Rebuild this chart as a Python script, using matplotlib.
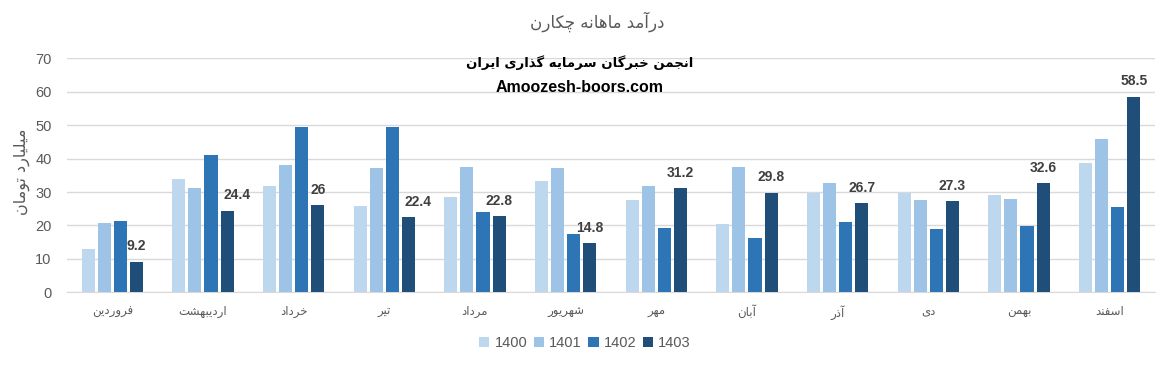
import numpy as np
import matplotlib
matplotlib.use("Agg")
import matplotlib.pyplot as plt
from matplotlib.patches import Patch

# ------------------------------------------------------
# Data
# ------------------------------------------------------
months = ["فروردین", "اردیبهشت", "خرداد", "تیر", "مرداد", "شهریور",
          "مهر", "آبان", "آذر", "دی", "بهمن", "اسفند"]
years = ["1400", "1401", "1402", "1403"]
rev_1400 = [13.0, 33.9, 31.8, 25.8, 28.5, 33.3, 27.6, 20.4, 29.7, 29.7, 29.1, 38.7]
rev_1401 = [20.7, 31.2, 38.1, 37.2, 37.5, 37.2, 31.8, 37.5, 32.7, 27.6, 27.9, 45.9]
rev_1402 = [21.3, 41.1, 49.5, 49.5, 24.0, 17.4, 19.2, 16.2, 21.0, 18.9, 19.8, 25.5]
rev_1403 = [9.2, 24.4, 26.0, 22.4, 22.8, 14.8, 31.2, 29.8, 26.7, 27.3, 32.6, 58.5]
series = [rev_1400, rev_1401, rev_1402, rev_1403]

title_text = "درآمد ماهانه چکارن"
ylabel_text = "میلیارد تومان"
mark_fa = "انجمن خبرگان سرمایه گذاری ایران"
mark_en = "Amoozesh-boors.com"

colours = ["#BDD7EE", "#9DC3E6", "#2E75B6", "#1F4E79"]

# ------------------------------------------------------
# Tiny Persian shaper (matplotlib has no RTL / joining support)
# iso, final, initial, medial
# ------------------------------------------------------
FORMS = {
    "ا": ("\uFE8D", "\uFE8E", None, None),
    "آ": ("\uFE81", "\uFE82", None, None),
    "ب": ("\uFE8F", "\uFE90", "\uFE91", "\uFE92"),
    "پ": ("\uFB56", "\uFB57", "\uFB58", "\uFB59"),
    "ت": ("\uFE95", "\uFE96", "\uFE97", "\uFE98"),
    "ج": ("\uFE9D", "\uFE9E", "\uFE9F", "\uFEA0"),
    "چ": ("\uFB7A", "\uFB7B", "\uFB7C", "\uFB7D"),
    "خ": ("\uFEA5", "\uFEA6", "\uFEA7", "\uFEA8"),
    "د": ("\uFEA9", "\uFEAA", None, None),
    "ذ": ("\uFEAB", "\uFEAC", None, None),
    "ر": ("\uFEAD", "\uFEAE", None, None),
    "ز": ("\uFEAF", "\uFEB0", None, None),
    "س": ("\uFEB1", "\uFEB2", "\uFEB3", "\uFEB4"),
    "ش": ("\uFEB5", "\uFEB6", "\uFEB7", "\uFEB8"),
    "ف": ("\uFED1", "\uFED2", "\uFED3", "\uFED4"),
    "ک": ("\uFB8E", "\uFB8F", "\uFB90", "\uFB91"),
    "گ": ("\uFB92", "\uFB93", "\uFB94", "\uFB95"),
    "ل": ("\uFEDD", "\uFEDE", "\uFEDF", "\uFEE0"),
    "م": ("\uFEE1", "\uFEE2", "\uFEE3", "\uFEE4"),
    "ن": ("\uFEE5", "\uFEE6", "\uFEE7", "\uFEE8"),
    "و": ("\uFEED", "\uFEEE", None, None),
    "ه": ("\uFEE9", "\uFEEA", "\uFEEB", "\uFEEC"),
    "ی": ("\uFBFC", "\uFBFD", "\uFBFE", "\uFBFF"),
}

def fa(text):
    out = []
    for i, c in enumerate(text):
        if c not in FORMS:
            out.append(c)
            continue
        prev = text[i-1] if i > 0 else None
        nxt = text[i+1] if i+1 < len(text) else None
        join_prev = prev in FORMS and FORMS[prev][2] is not None
        join_next = nxt in FORMS and FORMS[c][2] is not None
        iso, fin, ini, med = FORMS[c]
        if join_prev and join_next:
            out.append(med)
        elif join_prev:
            out.append(fin)
        elif join_next:
            out.append(ini)
        else:
            out.append(iso)
    return "".join(out[::-1])

# ------------------------------------------------------
# Plot
# ------------------------------------------------------
plt.rcParams["font.family"] = ["DejaVu Sans"]
grey = "#595959"

fig = plt.figure(figsize=(11.67, 3.68), dpi=100)
ax = fig.add_axes([0.0574, 0.2057, 0.9323, 0.6359])

x = np.arange(len(months))
step = 0.177
width = 0.144
for k, (vals, col) in enumerate(zip(series, colours)):
    ax.bar(x + (k - 1.5) * step, vals, width=width, color=col, zorder=3)

# data labels on 1403 bars (two were nudged right in the original)
label_dx = {1: 7, 3: 7}
for i, v in enumerate(rev_1403):
    ax.annotate(f"{v:g}", (x[i] + 1.5 * step, v), xytext=(label_dx.get(i, 0), 11),
                textcoords="offset points", ha="center", va="center",
                fontsize=10, fontweight="bold", color="#404040",
                family=["Liberation Sans"])

ax.set_xlim(-0.5, len(months) - 0.5)
ax.set_ylim(0, 70)
ax.set_yticks(np.arange(0, 71, 10))
ax.set_xticks(x)
ax.set_xticklabels([fa(m) for m in months], fontsize=8.5, color=grey)
ax.tick_params(axis="both", length=0, colors=grey)
ax.tick_params(axis="x", pad=9)
ax.tick_params(axis="y", pad=11, labelsize=10.5)
for lab in ax.get_yticklabels():
    lab.set_family(["Liberation Sans"])
ax.grid(axis="y", color="#D9D9D9", linewidth=1, zorder=0)
for s in ["top", "right", "left"]:
    ax.spines[s].set_visible(False)
ax.spines["bottom"].set_color("#D9D9D9")

fig.text(22 / 1167, 1 - 172 / 368, fa(ylabel_text), rotation=90, ha="center",
         va="center", fontsize=11.5, color=grey)
fig.text(597 / 1167, 1 - 22 / 368, fa(title_text), ha="center", va="center",
         fontsize=12, color=grey)
fig.text(580 / 1167, 1 - 63 / 368, fa(mark_fa), ha="center", va="center",
         fontsize=9.5, fontweight="bold", color="black")
fig.text(580 / 1167, 1 - 88 / 368, mark_en, ha="center", va="center",
         fontsize=11.5, fontweight="bold", color="black", family=["Liberation Sans"])

handles = [Patch(facecolor=c, label=y) for c, y in zip(colours, years)]
leg = fig.legend(handles=handles, loc="center", bbox_to_anchor=(585 / 1167, 1 - 343 / 368),
                 ncol=4, frameon=False, handlelength=0.7, handleheight=0.7,
                 handletextpad=0.35, columnspacing=0.45,
                 prop={"family": "Liberation Sans", "size": 10.5})
for t in leg.get_texts():
    t.set_color(grey)

fig.savefig("out.png", dpi=100)
